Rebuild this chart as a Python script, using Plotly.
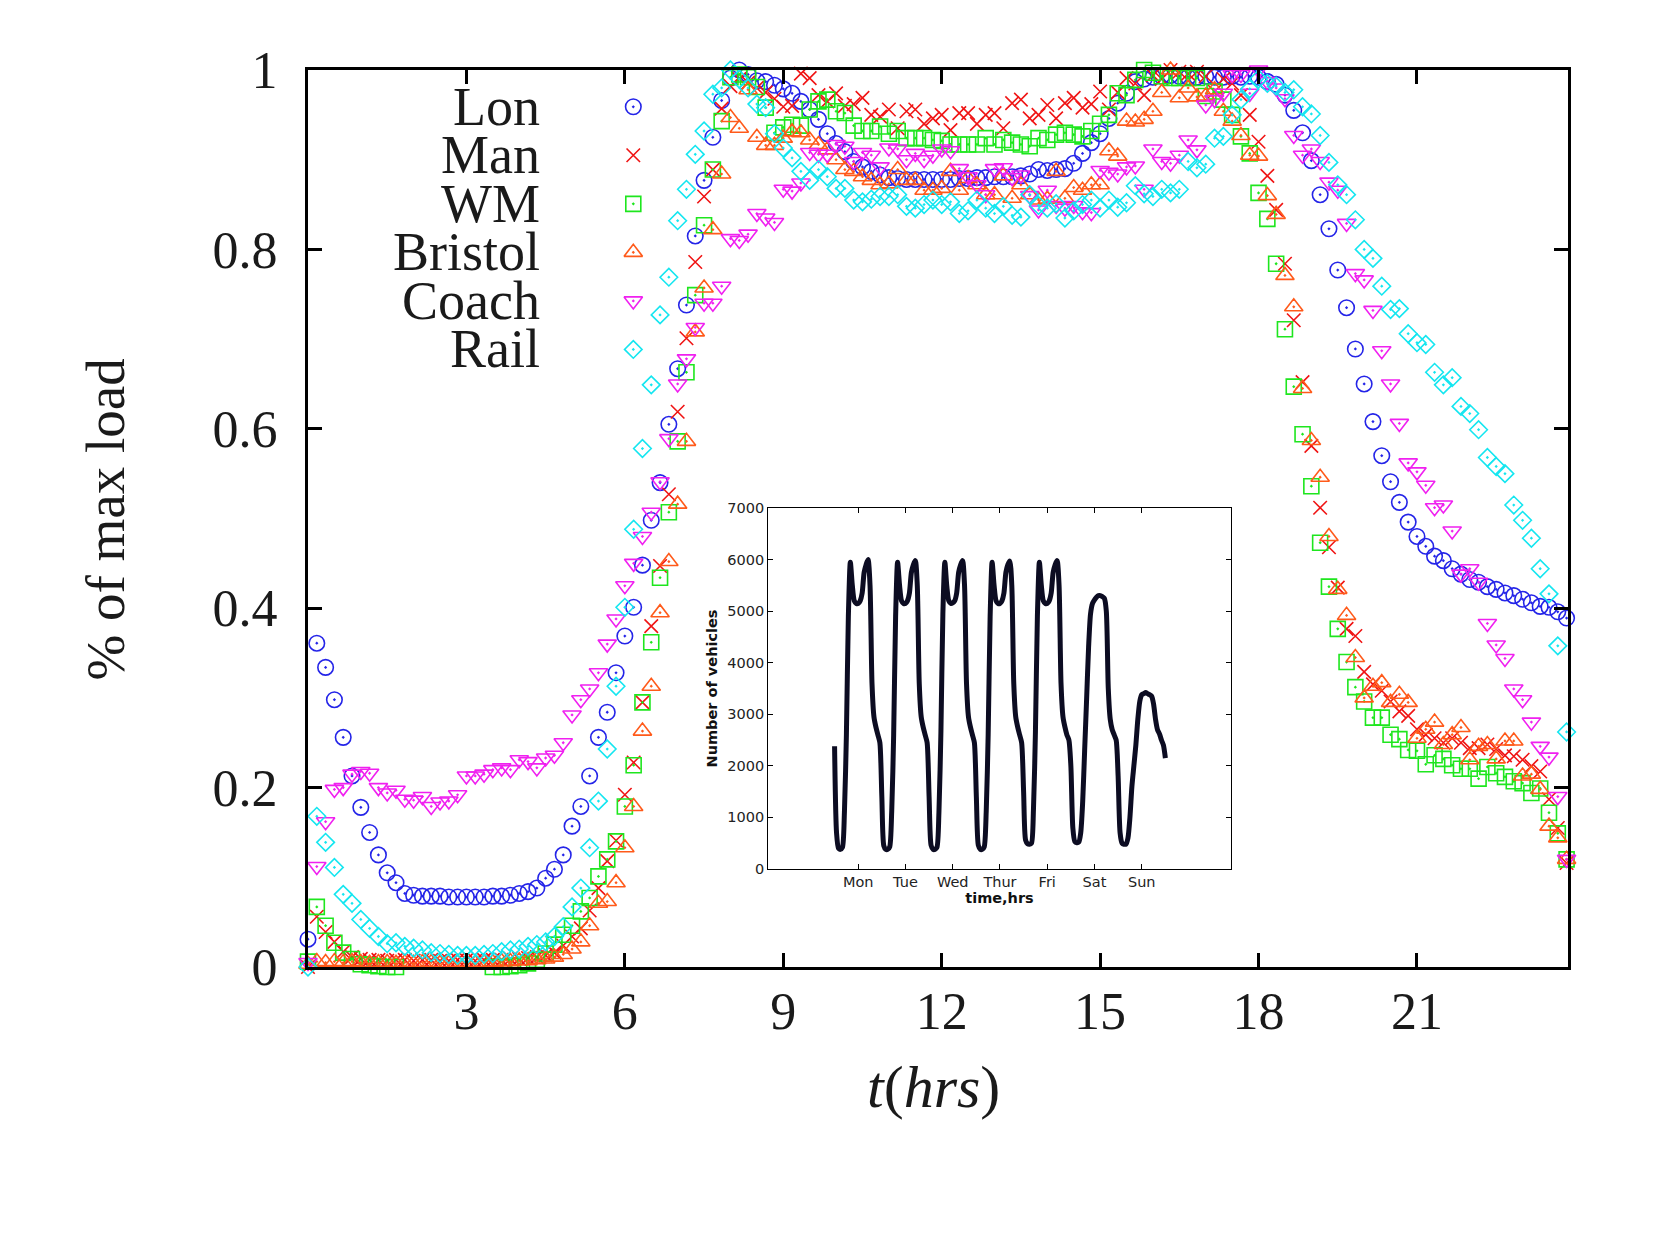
import plotly.graph_objects as go

# ---------------- main chart data (10-minute samples, t = i/6 hours) ----------------
STEP_HOURS = 1 / 6

LON = [
    0.031, 0.361, 0.334, 0.298, 0.256, 0.213, 0.178, 0.150, 0.125, 0.105,
    0.094, 0.082, 0.080, 0.079, 0.079, 0.079, 0.078, 0.078, 0.078, 0.078,
    0.078, 0.079, 0.079, 0.080, 0.082, 0.084, 0.088, 0.099, 0.109, 0.125,
    0.157, 0.179, 0.213, 0.256, 0.284, 0.328, 0.369, 0.401, 0.448, 0.498,
    0.540, 0.605, 0.667, 0.738, 0.815, 0.877, 0.925, 0.966, 0.991, 1.000,
    0.995, 0.988, 0.987, 0.983, 0.979, 0.974, 0.965, 0.956, 0.945, 0.929,
    0.918, 0.909, 0.898, 0.892, 0.887, 0.883, 0.880, 0.879, 0.878, 0.878,
    0.878, 0.878, 0.878, 0.878, 0.879, 0.879, 0.880, 0.880, 0.881, 0.881,
    0.881, 0.882, 0.884, 0.889, 0.888, 0.889, 0.890, 0.896, 0.907, 0.919,
    0.929, 0.946, 0.963, 0.974, 0.987, 0.990, 0.992, 0.993, 0.994, 0.993,
    0.992, 0.992, 0.993, 0.992, 0.992, 0.993, 0.992, 0.993, 0.992, 0.987,
    0.984, 0.972, 0.955, 0.930, 0.899, 0.861, 0.823, 0.777, 0.735, 0.689,
    0.650, 0.608, 0.570, 0.541, 0.518, 0.496, 0.480, 0.469, 0.458, 0.453,
    0.444, 0.438, 0.432, 0.429, 0.424, 0.421, 0.417, 0.414, 0.410, 0.406,
    0.402, 0.401, 0.396, 0.389,
]

MAN = [
    0.000, 0.056, 0.039, 0.028, 0.017, 0.011, 0.009, 0.008, 0.008, 0.007,
    0.008, 0.008, 0.007, 0.008, 0.008, 0.007, 0.007, 0.008, 0.008, 0.007,
    0.008, 0.008, 0.008, 0.009, 0.009, 0.010, 0.011, 0.013, 0.016, 0.024,
    0.034, 0.043, 0.063, 0.088, 0.118, 0.141, 0.192, 0.228, 0.295, 0.380,
    0.447, 0.527, 0.619, 0.701, 0.786, 0.859, 0.889, 0.957, 0.982, 0.990,
    0.986, 0.980, 0.975, 0.968, 0.959, 0.960, 0.996, 0.991, 0.972, 0.965,
    0.974, 0.960, 0.962, 0.969, 0.950, 0.948, 0.956, 0.935, 0.954, 0.956,
    0.940, 0.946, 0.950, 0.933, 0.952, 0.952, 0.940, 0.950, 0.952, 0.935,
    0.963, 0.967, 0.946, 0.950, 0.961, 0.946, 0.963, 0.969, 0.958, 0.962,
    0.976, 0.956, 0.975, 0.991, 0.985, 0.972, 0.994, 0.990, 1.000, 0.998,
    0.996, 0.998, 0.993, 0.976, 0.990, 0.985, 0.972, 0.950, 0.920, 0.882,
    0.844, 0.784, 0.721, 0.652, 0.581, 0.512, 0.468, 0.423, 0.377, 0.369,
    0.329, 0.315, 0.308, 0.296, 0.285, 0.280, 0.265, 0.259, 0.255, 0.250,
    0.255, 0.250, 0.244, 0.244, 0.248, 0.243, 0.236, 0.235, 0.231, 0.224,
    0.218, 0.187, 0.155, 0.116,
]

WM = [
    0.006, 0.067, 0.046, 0.027, 0.016, 0.009, 0.003, 0.002, 0.001, 0.000,
    0.000, -0.001, -0.002, -0.002, -0.002, -0.002, -0.002, -0.002, -0.002, -0.001,
    -0.001, 0.000, 0.000, 0.001, 0.002, 0.004, 0.008, 0.015, 0.025, 0.036,
    0.046, 0.062, 0.077, 0.101, 0.120, 0.140, 0.179, 0.225, 0.295, 0.362,
    0.434, 0.507, 0.586, 0.663, 0.749, 0.827, 0.889, 0.943, 0.992, 0.995,
    0.992, 0.981, 0.958, 0.930, 0.936, 0.939, 0.938, 0.956, 0.965, 0.967,
    0.954, 0.952, 0.938, 0.932, 0.932, 0.937, 0.929, 0.932, 0.924, 0.924,
    0.924, 0.922, 0.921, 0.917, 0.917, 0.917, 0.917, 0.924, 0.917, 0.922,
    0.919, 0.917, 0.915, 0.924, 0.922, 0.928, 0.930, 0.928, 0.926, 0.932,
    0.940, 0.950, 0.974, 0.972, 0.989, 1.000, 0.997, 0.993, 0.991, 0.991,
    0.991, 0.991, 0.971, 0.976, 0.967, 0.950, 0.926, 0.907, 0.863, 0.834,
    0.784, 0.711, 0.647, 0.594, 0.536, 0.473, 0.424, 0.377, 0.340, 0.312,
    0.296, 0.278, 0.278, 0.259, 0.254, 0.242, 0.241, 0.226, 0.236, 0.232,
    0.225, 0.221, 0.221, 0.210, 0.223, 0.216, 0.212, 0.207, 0.205, 0.194,
    0.199, 0.172, 0.149, 0.120,
]

BRISTOL = [
    0.003, 0.006, 0.005, 0.006, 0.005, 0.006, 0.005, 0.004, 0.005, 0.005,
    0.004, 0.005, 0.004, 0.005, 0.005, 0.004, 0.004, 0.005, 0.005, 0.004,
    0.005, 0.005, 0.006, 0.006, 0.007, 0.007, 0.008, 0.009, 0.011, 0.014,
    0.020, 0.028, 0.046, 0.071, 0.073, 0.094, 0.133, 0.179, 0.263, 0.313,
    0.395, 0.452, 0.516, 0.586, 0.708, 0.757, 0.822, 0.884, 0.947, 0.935,
    0.978, 0.925, 0.916, 0.916, 0.924, 0.931, 0.930, 0.922, 0.917, 0.911,
    0.900, 0.889, 0.887, 0.881, 0.877, 0.872, 0.873, 0.889, 0.877, 0.877,
    0.866, 0.866, 0.868, 0.887, 0.866, 0.879, 0.872, 0.861, 0.861, 0.882,
    0.857, 0.872, 0.861, 0.855, 0.856, 0.887, 0.857, 0.869, 0.866, 0.872,
    0.872, 0.910, 0.904, 0.943, 0.942, 0.945, 0.954, 0.975, 1.000, 0.969,
    0.980, 0.970, 0.971, 0.978, 0.954, 0.943, 0.927, 0.905, 0.904, 0.860,
    0.839, 0.771, 0.736, 0.645, 0.587, 0.546, 0.480, 0.421, 0.392, 0.345,
    0.300, 0.313, 0.317, 0.295, 0.304, 0.295, 0.255, 0.265, 0.273, 0.248,
    0.259, 0.267, 0.231, 0.246, 0.248, 0.232, 0.252, 0.252, 0.213, 0.215,
    0.198, 0.157, 0.144, 0.120,
]

COACH = [
    0.005, 0.112, 0.162, 0.198, 0.200, 0.215, 0.218, 0.216, 0.200, 0.194,
    0.197, 0.187, 0.186, 0.190, 0.179, 0.184, 0.185, 0.192, 0.213, 0.213,
    0.215, 0.220, 0.222, 0.220, 0.231, 0.229, 0.222, 0.233, 0.236, 0.250,
    0.281, 0.298, 0.310, 0.328, 0.360, 0.388, 0.425, 0.450, 0.480, 0.507,
    0.541, 0.589, 0.650, 0.678, 0.713, 0.740, 0.740, 0.759, 0.812, 0.810,
    0.817, 0.840, 0.835, 0.830, 0.867, 0.865, 0.874, 0.908, 0.906, 0.906,
    0.917, 0.915, 0.898, 0.908, 0.905, 0.892, 0.913, 0.912, 0.900, 0.907,
    0.900, 0.905, 0.912, 0.910, 0.890, 0.881, 0.872, 0.861, 0.890, 0.891,
    0.880, 0.883, 0.860, 0.844, 0.866, 0.849, 0.846, 0.849, 0.842, 0.841,
    0.888, 0.886, 0.884, 0.892, 0.893, 0.867, 0.912, 0.898, 0.896, 0.905,
    0.922, 0.911, 0.961, 0.967, 0.974, 0.995, 0.995, 0.974, 1.000, 0.987,
    0.980, 0.968, 0.927, 0.905, 0.912, 0.898, 0.875, 0.866, 0.829, 0.773,
    0.766, 0.732, 0.687, 0.650, 0.606, 0.562, 0.552, 0.537, 0.512, 0.515,
    0.486, 0.438, 0.444, 0.429, 0.383, 0.359, 0.344, 0.310, 0.298, 0.273,
    0.246, 0.234, 0.190, 0.120,
]

RAIL = [
    0.000, 0.168, 0.139, 0.111, 0.081, 0.071, 0.053, 0.043, 0.034, 0.026,
    0.027, 0.023, 0.021, 0.019, 0.016, 0.015, 0.014, 0.013, 0.013, 0.013,
    0.014, 0.015, 0.017, 0.019, 0.020, 0.023, 0.025, 0.028, 0.034, 0.045,
    0.067, 0.088, 0.133, 0.185, 0.243, 0.313, 0.401, 0.488, 0.578, 0.649,
    0.727, 0.769, 0.832, 0.867, 0.906, 0.932, 0.973, 0.980, 1.000, 0.990,
    0.980, 0.962, 0.958, 0.929, 0.913, 0.902, 0.887, 0.877, 0.889, 0.881,
    0.868, 0.868, 0.855, 0.853, 0.856, 0.859, 0.859, 0.861, 0.848, 0.846,
    0.850, 0.855, 0.850, 0.853, 0.840, 0.843, 0.855, 0.846, 0.840, 0.848,
    0.838, 0.836, 0.861, 0.849, 0.846, 0.851, 0.835, 0.843, 0.850, 0.855,
    0.846, 0.855, 0.847, 0.852, 0.871, 0.862, 0.859, 0.867, 0.863, 0.867,
    0.898, 0.891, 0.895, 0.924, 0.926, 0.950, 0.967, 0.979, 0.990, 0.985,
    0.982, 0.975, 0.978, 0.959, 0.951, 0.927, 0.897, 0.872, 0.861, 0.833,
    0.800, 0.790, 0.759, 0.733, 0.734, 0.706, 0.696, 0.694, 0.663, 0.649,
    0.657, 0.625, 0.617, 0.599, 0.568, 0.558, 0.550, 0.515, 0.498, 0.478,
    0.444, 0.416, 0.358, 0.262,
]

SERIES_NAMES = ["Lon", "Man", "WM", "Bristol", "Coach", "Rail"]
SERIES_VALUES = [LON, MAN, WM, BRISTOL, COACH, RAIL]

X_TICKS = [3, 6, 9, 12, 15, 18, 21]
Y_TICKS = [0, 0.2, 0.4, 0.6, 0.8, 1]
Y_TICK_TEXT = ["0", "0.2", "0.4", "0.6", "0.8", "1"]

# ---------------- inset data (hourly, hours from Monday 00:00) ----------------
MON = [2380, 700, 400, 380, 420, 1100, 2600, 4900, 5950, 5500, 5200, 5150,
       5150, 5200, 5350, 5750, 5900, 6000, 5500, 3600, 2950, 2750, 2600, 2450]
TUE = [1400, 450, 380, 380, 430, 1100, 2600, 4900, 5950, 5500, 5200, 5150,
       5150, 5200, 5350, 5750, 5900, 5980, 5500, 3600, 2950, 2750, 2600, 2450]
WED = [1400, 460, 380, 380, 420, 1100, 2650, 4950, 5950, 5480, 5200, 5150,
       5160, 5200, 5350, 5750, 5900, 5980, 5500, 3600, 2950, 2750, 2600, 2450]
THU = [1400, 460, 380, 380, 430, 1100, 2600, 4900, 5950, 5500, 5200, 5150,
       5150, 5200, 5350, 5750, 5900, 5970, 5500, 3600, 2950, 2750, 2600, 2450]
FRI = [1500, 560, 490, 480, 500, 1150, 2650, 4900, 5950, 5500, 5200, 5150,
       5150, 5200, 5350, 5750, 5900, 5980, 5500, 3600, 2950, 2750, 2600, 2500]
SAT = [2000, 800, 530, 510, 520, 700, 1300, 2300, 3300, 4300, 4950, 5150,
       5220, 5270, 5300, 5300, 5280, 5250, 5000, 3500, 2900, 2700, 2600, 2500]
SUN = [1800, 700, 500, 480, 480, 600, 1000, 1600, 2000, 2400, 2900, 3250,
       3380, 3400, 3420, 3400, 3380, 3350, 3200, 2900, 2700, 2620, 2500, 2400]
WEEK_END = [2150]

INSET_DAY_LABELS = ["Mon", "Tue", "Wed", "Thur", "Fri", "Sat", "Sun"]
INSET_DAY_TICKS = [12, 36, 60, 84, 108, 132, 156]
INSET_Y_TICKS = [0, 1000, 2000, 3000, 4000, 5000, 6000, 7000]

# ---------------- styles ----------------
STYLES = {
    "Lon":     dict(symbol="circle-open-dot", size=15.5, color="#2424e8"),
    "Man":     dict(symbol="x-thin-open", size=13.5, color="#f01414"),
    "WM":      dict(symbol="square-open-dot", size=15, color="#1ee61e"),
    "Bristol": dict(symbol="triangle-up-open-dot", size=16, color="#ff5a1a"),
    "Coach":   dict(symbol="triangle-down-open-dot", size=16, color="#f020f0"),
    "Rail":    dict(symbol="diamond-open-dot", size=13.5, color="#14e6f0"),
}
SERIF = "Liberation Serif"
SANS = "DejaVu Sans"
INK = "#1a1a1a"

fig = go.Figure()

for name, vals in zip(SERIES_NAMES, SERIES_VALUES):
    st = STYLES[name]
    hours = [i * STEP_HOURS for i in range(len(vals))]
    fig.add_trace(go.Scatter(
        x=hours, y=vals, mode="markers", name=name, showlegend=False,
        cliponaxis=False,
        marker=dict(symbol=st["symbol"], size=st["size"], color=st["color"],
                    line=dict(color=st["color"], width=1.6)),
        xaxis="x", yaxis="y",
    ))

# legend (gnuplot style: label on the left, key symbol on the right)
LEG_X_KEY = 6.16
LEG_X_TEXT = 4.44
LEG_TOP = 0.959
LEG_STEP = 0.0541
annotations = []
for k, name in enumerate(SERIES_NAMES):
    st = STYLES[name]
    yk = LEG_TOP - k * LEG_STEP
    fig.add_trace(go.Scatter(
        x=[LEG_X_KEY], y=[yk], mode="markers", showlegend=False, cliponaxis=False,
        marker=dict(symbol=st["symbol"], size=st["size"], color=st["color"],
                    line=dict(color=st["color"], width=1.6)),
        xaxis="x", yaxis="y", hoverinfo="skip",
    ))
    annotations.append(dict(
        x=LEG_X_TEXT, y=yk, xref="x", yref="y", text=name, showarrow=False,
        xanchor="right", yanchor="middle", height=46, valign="middle",
        font=dict(family=SERIF, size=54, color=INK),
    ))

# inset weekly curve
week = MON + TUE + WED + THU + FRI + SAT + SUN + WEEK_END
week_hours = list(range(len(week)))
fig.add_trace(go.Scatter(
    x=week_hours, y=week, mode="lines", showlegend=False,
    line=dict(color="#0c0c22", width=5, shape="spline", smoothing=0.7),
    xaxis="x2", yaxis="y2",
))

# axis titles of main chart
annotations.append(dict(
    x=0.4968, y=-0.134, xref="paper", yref="paper",
    text="<i>t</i>(<i>hrs</i>)", showarrow=False, xanchor="center", yanchor="middle",
    font=dict(family=SERIF, size=60, color=INK),
))
annotations.append(dict(
    x=-0.161, y=0.499, xref="paper", yref="paper",
    text="% of max load", showarrow=False, xanchor="center", yanchor="middle",
    textangle=-90, font=dict(family=SERIF, size=55, color=INK),
))

main_axis = dict(
    showline=True, linewidth=3, linecolor="black", mirror="ticks",
    ticks="inside", ticklen=14, tickwidth=3, tickcolor="black",
    showgrid=False, zeroline=False,
    tickfont=dict(family=SERIF, size=52, color=INK),
)
inset_axis = dict(
    showline=True, linewidth=1, linecolor="black", mirror="ticks",
    ticks="inside", ticklen=5, tickwidth=1, tickcolor="black",
    showgrid=False, zeroline=False,
    tickfont=dict(family=SANS, size=14.5, color="#222222"),
)

fig.update_layout(
    width=1655, height=1240,
    margin=dict(l=308, r=87, t=70, b=273),
    paper_bgcolor="white", plot_bgcolor="white",
    showlegend=False,
    xaxis=dict(main_axis, range=[0, 23.86], tickvals=X_TICKS, domain=[0, 1],
               anchor="y", ticklabelstandoff=-3),
    yaxis=dict(main_axis, range=[0, 1], tickvals=Y_TICKS, ticktext=Y_TICK_TEXT,
               domain=[0, 1], anchor="x", ticklabelstandoff=17),
    xaxis2=dict(inset_axis, range=[-33.8, 201.3], tickvals=INSET_DAY_TICKS,
                ticktext=INSET_DAY_LABELS, domain=[0.3651, 0.7325], anchor="y2",
                title=dict(text="<b>time,hrs</b>", standoff=2,
                           font=dict(family=SANS, size=14.5, color="#111111"))),
    yaxis2=dict(inset_axis, range=[0, 7000], tickvals=INSET_Y_TICKS,
                domain=[0.1093, 0.5117], anchor="x2",
                title=dict(text="<b>Number of vehicles</b>", standoff=6,
                           font=dict(family=SANS, size=14.5, color="#111111"))),
    annotations=annotations,
)

fig.write_html("out.html")
